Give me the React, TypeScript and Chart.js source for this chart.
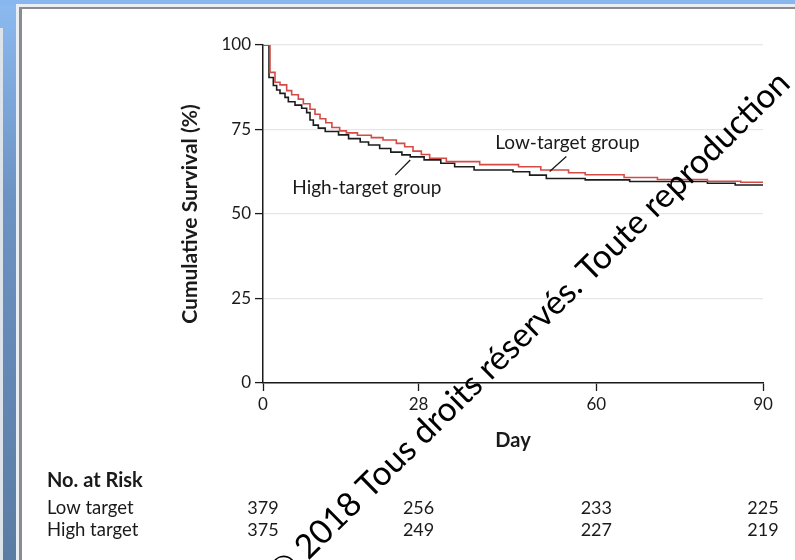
import React, { useEffect, useRef } from 'react';
import { Chart, registerables } from 'chart.js';

Chart.register(...registerables);

// ---- data ----
const xTicks = [0, 28, 60, 90];
const yTicks = [0, 25, 50, 75, 100];

const lowDays = [0, 1.26, 2.16, 3.06, 4.26, 5.16, 6.36, 7.26, 8.46, 9.36, 10.26, 11.3, 12.4, 13.8, 15.0, 17.0, 19.5, 21.6, 24.0, 25.5, 27.0, 28.5, 30.0, 33.0, 39.0, 46.0, 50.0, 55.0, 58.0, 65.0, 71.0, 80.0, 86.0, 90.0];
const lowSurv = [100, 91.9, 89.0, 88.2, 86.5, 85.3, 84.0, 82.6, 81.0, 79.5, 78.2, 77.0, 75.6, 74.6, 74.0, 73.3, 72.6, 71.9, 70.9, 69.9, 68.6, 67.6, 66.5, 65.5, 64.6, 64.0, 63.0, 62.2, 61.6, 60.8, 60.2, 59.7, 59.4, 59.4];

const highDays = [0, 1.08, 1.86, 2.46, 3.06, 3.96, 4.56, 5.76, 6.96, 7.86, 8.46, 9.06, 9.96, 11.2, 13.6, 15.4, 17.5, 19.0, 21.0, 23.0, 25.0, 26.5, 29.0, 32.0, 34.5, 38.0, 45.0, 48.0, 51.0, 58.0, 66.0, 80.0, 85.0, 90.0];
const highSurv = [100, 90.4, 88.0, 86.7, 85.7, 84.5, 83.2, 82.2, 81.3, 80.0, 77.8, 76.3, 75.4, 74.4, 73.4, 72.3, 71.3, 70.4, 69.4, 68.3, 67.5, 66.9, 66.0, 65.0, 64.0, 63.0, 62.5, 61.5, 60.5, 60.1, 59.6, 59.1, 58.6, 58.6];

const riskDays = [0, 28, 60, 90];
const lowRisk = [379, 256, 233, 225];
const highRisk = [375, 249, 227, 219];

const lowLabel = 'Low-target group';
const highLabel = 'High-target group';
const watermarkPre = '© 2018 ';
const watermarkMain = 'Tous droits réservés. Toute reproduction';

const FONT = 'Lato, "Open Sans", sans-serif';
const INK = '#1a1a1a';
const RED = '#d44a44';

const backgroundPlugin = {
  id: 'bgPanel',
  beforeDraw(chart: any) {
    const { ctx, width, height } = chart;
    ctx.save();
    const g = ctx.createLinearGradient(0, 0, 0, height);
    g.addColorStop(0, '#8cbaf0');
    g.addColorStop(0.35, '#6d93c4');
    g.addColorStop(1, '#5a7ca4');
    ctx.fillStyle = g;
    ctx.fillRect(0, 0, width, height);
    ctx.fillStyle = '#88b6ee';
    ctx.fillRect(0, 0, width, 5);
    ctx.fillStyle = '#dde3ea';
    ctx.fillRect(0, 28, 3, height - 28);
    ctx.fillStyle = '#e9eef4';
    ctx.fillRect(16, 4, width - 16, height - 4);
    ctx.fillStyle = '#8b8b8b';
    ctx.fillRect(19, 7, width - 19, height - 7);
    ctx.fillStyle = '#ffffff';
    ctx.fillRect(22, 9, width - 22, height - 9);
    ctx.restore();
  },
};

const overlayPlugin = {
  id: 'overlay',
  afterDraw(chart: any) {
    const { ctx } = chart;
    const xs = chart.scales.x;
    const ys = chart.scales.y;
    const px = (d: number) => xs.getPixelForValue(d);
    const py = (v: number) => ys.getPixelForValue(v);
    ctx.save();
    ctx.fillStyle = INK;
    ctx.strokeStyle = INK;
    ctx.textBaseline = 'middle';

    // curve labels
    ctx.font = `19px ${FONT}`;
    ctx.textAlign = 'left';
    ctx.fillText(lowLabel, px(41.8), py(71));
    ctx.textAlign = 'center';
    ctx.fillText(highLabel, px(18.7), py(57.7));
    ctx.lineWidth = 1.3;
    ctx.beginPath();
    ctx.moveTo(px(54.6), py(67.0));
    ctx.lineTo(px(51.6), py(62.6));
    ctx.moveTo(px(26.5), py(66.0));
    ctx.lineTo(px(23.8), py(61.5));
    ctx.stroke();

    // number at risk table
    ctx.textAlign = 'left';
    ctx.font = `bold 20px ${FONT}`;
    ctx.fillText('No. at Risk', 47, 481);
    ctx.font = `18.5px ${FONT}`;
    ctx.fillText('Low target', 47, 508);
    ctx.fillText('High target', 47, 530);
    ctx.textAlign = 'center';
    ctx.font = `18px ${FONT}`;
    riskDays.forEach((d, i) => {
      ctx.fillText(String(lowRisk[i]), px(d), 508);
      ctx.fillText(String(highRisk[i]), px(d), 530);
    });

    // watermark
    ctx.font = `100px ${FONT}`;
    const unit = ctx.measureText('Tous droits réservés. ').width / 100;
    const fs = 309 / unit;
    ctx.font = `${fs}px ${FONT}`;
    ctx.translate(370, 500);
    ctx.rotate((-44.5 * Math.PI) / 180);
    ctx.textBaseline = 'alphabetic';
    ctx.fillStyle = '#000000';
    ctx.textAlign = 'right';
    ctx.fillText(watermarkPre, 0, 0);
    ctx.textAlign = 'left';
    ctx.fillText(watermarkMain, 0, 0);
    ctx.restore();
  },
};

export default function App() {
  const ref = useRef<HTMLCanvasElement | null>(null);
  useEffect(() => {
    if (!ref.current) return;
    const chart = new Chart(ref.current, {
      type: 'line',
      data: {
        datasets: [
          {
            label: 'Low target',
            data: lowDays.map((d, i) => ({ x: d, y: lowSurv[i] })),
            borderColor: RED,
            borderWidth: 1.6,
            stepped: true,
            pointRadius: 0,
            fill: false,
          },
          {
            label: 'High target',
            data: highDays.map((d, i) => ({ x: d, y: highSurv[i] })),
            borderColor: '#1c1c1c',
            borderWidth: 1.6,
            stepped: true,
            pointRadius: 0,
            fill: false,
          },
        ],
      },
      options: {
        animation: false,
        responsive: false,
        layout: { padding: { left: 178, top: 45, right: 32, bottom: 107 } },
        plugins: { legend: { display: false }, tooltip: { enabled: false } },
        scales: {
          x: {
            type: 'linear',
            min: 0,
            max: 90,
            afterBuildTicks: (s: any) => {
              s.ticks = xTicks.map((v) => ({ value: v }));
            },
            afterFit: (s: any) => {
              s.height = 70;
            },
            grid: { drawOnChartArea: false, drawTicks: true, tickLength: 8, tickColor: INK, tickWidth: 1.3 },
            border: { color: INK, width: 1.5 },
            ticks: { color: INK, font: { family: FONT, size: 17 }, padding: 3, maxRotation: 0, autoSkip: false },
            title: { display: true, text: 'Day', color: INK, font: { family: FONT, size: 20, weight: 'bold' }, padding: { top: 0, bottom: 0 } },
          },
          y: {
            type: 'linear',
            min: 0,
            max: 100,
            afterBuildTicks: (s: any) => {
              s.ticks = yTicks.map((v) => ({ value: v }));
            },
            afterFit: (s: any) => {
              s.width = 85;
            },
            grid: { color: '#e6e6e6', lineWidth: 1.2, drawTicks: true, tickLength: 8, tickColor: INK, tickWidth: 1.3 },
            border: { color: INK, width: 1.5 },
            ticks: { color: INK, font: { family: FONT, size: 17 }, padding: 4 },
            title: { display: true, text: 'Cumulative Survival (%)', color: INK, font: { family: FONT, size: 21, weight: 'bold' }, padding: { top: 0, bottom: 0 } },
          },
        },
      },
      plugins: [backgroundPlugin, overlayPlugin],
    });
    return () => chart.destroy();
  }, []);
  return (
    <div style={{ position: 'absolute', left: 0, top: 0, width: 795, height: 560 }}>
      <canvas ref={ref} width={795} height={560} style={{ display: 'block' }} />
    </div>
  );
}
